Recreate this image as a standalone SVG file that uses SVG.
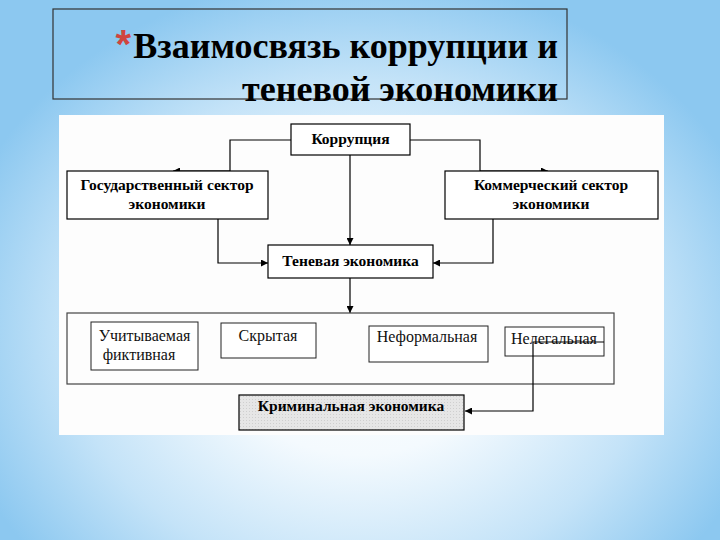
<svg xmlns="http://www.w3.org/2000/svg" width="720" height="540" viewBox="0 0 720 540">
<defs>
<radialGradient id="bg" cx="360" cy="330" r="420" gradientUnits="userSpaceOnUse" gradientTransform="translate(360 330) scale(1 0.85) translate(-360 -330)">
<stop offset="0" stop-color="#ffffff"/>
<stop offset="0.35" stop-color="#f4fafe"/>
<stop offset="0.7" stop-color="#c4e3f8"/>
<stop offset="1" stop-color="#8cc8f0"/>
</radialGradient>
<marker id="ah" viewBox="0 0 10 10" refX="10" refY="5" markerWidth="7" markerHeight="7" markerUnits="userSpaceOnUse" orient="auto">
<path d="M0,0 L10,5 L0,10 z" fill="#000"/>
</marker>
<pattern id="dots" width="3" height="3" patternUnits="userSpaceOnUse">
<rect width="3" height="3" fill="#e6e6e6"/>
<rect width="1" height="1" fill="#cfcfcf"/>
</pattern>
</defs>
<style>
.box{fill:#fff;stroke:#000;stroke-width:1.2}
.lt{fill:#fff;stroke:#222;stroke-width:1}
.b{font-family:"Liberation Serif","Times New Roman",serif;font-weight:bold;font-size:15.5px;fill:#000;text-anchor:middle}
.n{font-family:"Liberation Serif","Times New Roman",serif;font-size:16px;fill:#111;text-anchor:middle}
.c{fill:none;stroke:#000;stroke-width:1.2}
.t{font-family:"Liberation Serif","Times New Roman",serif;font-weight:bold;font-size:36px;fill:#000;text-anchor:end}
</style>
<rect width="720" height="540" fill="url(#bg)"/>
<g id="title">
<rect x="53" y="9" width="514" height="90" fill="none" stroke="#333" stroke-width="1.2"/>
<text x="131" y="58" font-family="Liberation Sans,Arial,sans-serif" font-size="40" font-weight="bold" fill="#d0453f" text-anchor="end">*</text>
<text class="t" x="558" y="58">Взаимосвязь коррупции и</text>
<text class="t" x="558" y="101">теневой экономики</text>
</g>
<rect id="panel" x="59" y="115" width="605" height="320" fill="#fdfdfd"/>
<g id="connectors">
<polyline class="c" points="291,140 230,140 230,171 173,171" marker-end="url(#ah)"/>
<polyline class="c" points="410,140 480,140 480,171 548,171" marker-end="url(#ah)"/>
<line class="c" x1="350" y1="155" x2="350" y2="245" marker-end="url(#ah)"/>
<polyline class="c" points="218,219 218,263 268,263" marker-end="url(#ah)"/>
<polyline class="c" points="493,219 493,263 433,263" marker-end="url(#ah)"/>
<line class="c" x1="350" y1="278" x2="350" y2="313" marker-end="url(#ah)"/>
</g>
<g id="korrupcia">
<rect class="box" x="291" y="124" width="119" height="31"/>
<text class="b" x="350.5" y="144">Коррупция</text>
</g>
<g id="gos">
<rect class="box" x="67" y="171" width="201" height="48"/>
<text class="b" x="167" y="190">Государственный сектор</text>
<text class="b" x="167" y="209">экономики</text>
</g>
<g id="komm">
<rect class="box" x="445" y="171" width="213" height="48"/>
<text class="b" x="551" y="190">Коммерческий сектор</text>
<text class="b" x="551" y="209">экономики</text>
</g>
<g id="tenevaya">
<rect class="box" x="268" y="245" width="165" height="33"/>
<text class="b" x="350.5" y="266">Теневая экономика</text>
</g>
<g id="container">
<rect x="67" y="313" width="547" height="71" fill="none" stroke="#444" stroke-width="1.2"/>
</g>
<g id="uchit">
<rect class="lt" x="91" y="322" width="107" height="48"/>
<text class="n" x="144.5" y="341">Учитываемая</text>
<text class="n" x="139" y="360">фиктивная</text>
</g>
<g id="skrytaya">
<rect class="lt" x="221" y="323" width="95" height="35"/>
<text class="n" x="268" y="341">Скрытая</text>
</g>
<g id="neform">
<rect class="lt" x="369" y="326" width="119" height="36"/>
<text class="n" x="427" y="342">Неформальная</text>
</g>
<g id="nelegal">
<rect class="lt" x="505" y="327" width="99" height="29"/>
<text class="n" x="554" y="344">Нелегальная</text>
</g>
<g id="krim">
<rect x="239" y="395" width="225" height="35" fill="url(#dots)" stroke="#000" stroke-width="1.2"/>
<text class="b" x="351" y="411">Криминальная экономика</text>
</g>
<g id="connectors2">
<polyline class="c" points="604,342 533,342 533,411 465,411" marker-end="url(#ah)"/>
</g>
</svg>
